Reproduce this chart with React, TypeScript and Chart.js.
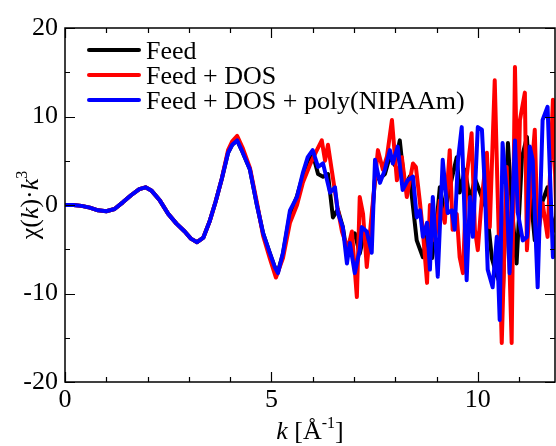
import React, { useEffect, useRef } from "react";
import { Chart, registerables } from "chart.js";

Chart.register(...registerables);

const SERIES_LABELS = ["Feed", "Feed + DOS", "Feed + DOS + poly(NIPAAm)"];
const SERIES_COLORS = ["#000000", "#ff0000", "#0000ff"];

// shared low-k part (all three curves coincide)
const kBase = [0, 0.2, 0.4, 0.6, 0.8, 1.0, 1.2, 1.4, 1.6, 1.8, 1.95, 2.1, 2.3, 2.5, 2.7, 2.9, 3.05, 3.2, 3.35, 3.5, 3.65, 3.8];
const chiBase = [0, 0, -0.1, -0.3, -0.6, -0.7, -0.45, 0.3, 1.1, 1.8, 2.0, 1.6, 0.5, -1.0, -2.1, -3.0, -3.8, -4.2, -3.7, -1.9, 0.4, 3.0];

const kFeed = [3.95, 4.05, 4.17, 4.3, 4.48, 4.64, 4.8, 4.96, 5.08, 5.16, 5.28, 5.45, 5.62, 5.76, 5.88, 6.0, 6.13, 6.25, 6.37, 6.49, 6.61, 6.73, 6.83, 6.9, 7.02, 7.14, 7.26, 7.38, 7.51, 7.63, 7.75, 7.87, 7.99, 8.11, 8.23, 8.35, 8.52, 8.67, 8.79, 8.89, 8.98, 9.08, 9.2, 9.32, 9.49, 9.56, 9.69, 9.81, 9.93, 10.12, 10.22, 10.34, 10.46, 10.61, 10.73, 10.82, 10.94, 11.07, 11.19, 11.26, 11.38, 11.55, 11.69, 11.82, 11.95];
const chiFeed = [5.9, 6.8, 7.3, 6.0, 4.0, 0.2, -3.2, -5.4, -7.0, -7.5, -5.5, -1.0, 1.0, 3.3, 5.0, 5.8, 3.5, 3.2, 3.5, -1.4, -0.5, -2.5, -5.5, -4.0, -3.2, -5.5, -3.0, -5.0, 3.0, 3.0, 3.5, 5.5, 4.5, 7.3, 2.0, 3.2, -4.0, -5.9, -3.0, -6.0, -3.0, 2.0, -1.0, 2.0, 5.4, 1.4, 4.0, 0.5, 3.0, 0.6, -0.5, -6.0, -8.0, -9.6, 7.0, 0.0, -6.6, 5.4, 7.7, 2.0, -4.0, 0.2, 2.0, -3.0, 0.0];

const kDos = [3.95, 4.05, 4.17, 4.3, 4.48, 4.64, 4.8, 4.96, 5.11, 5.28, 5.45, 5.62, 5.76, 5.93, 6.08, 6.22, 6.3, 6.37, 6.46, 6.59, 6.71, 6.85, 6.95, 7.07, 7.14, 7.22, 7.31, 7.43, 7.58, 7.7, 7.8, 7.92, 8.04, 8.16, 8.28, 8.43, 8.5, 8.6, 8.67, 8.77, 8.84, 8.96, 9.08, 9.2, 9.32, 9.39, 9.49, 9.56, 9.64, 9.73, 9.85, 9.93, 10.0, 10.1, 10.22, 10.29, 10.41, 10.48, 10.58, 10.7, 10.82, 10.9, 10.97, 11.02, 11.14, 11.19, 11.31, 11.38, 11.45, 11.57, 11.69, 11.82, 11.95];
const chiDos = [6.2, 7.2, 7.8, 6.5, 4.2, 0.5, -3.5, -6.0, -8.2, -6.0, -2.0, 0.0, 2.5, 4.5, 6.0, 7.3, 5.0, 6.8, 4.0, 0.0, -3.0, -5.0, -3.0, -10.4, 0.9, -1.0, -7.0, -1.0, 6.2, 4.0, 5.5, 9.6, 2.8, 5.4, 0.9, 4.7, 4.3, 0.2, -3.0, -8.8, 0.0, -4.0, 0.5, -2.0, 6.2, -2.8, -1.0, -5.9, -7.7, 3.2, 8.1, -2.8, -5.1, 0.9, 5.9, -2.5, 14.1, 1.4, -15.6, 4.3, -15.6, 15.6, -0.9, 9.6, 12.7, -5.1, 4.3, 8.5, -3.6, 0.2, -3.6, 11.9, -8.8];

const kPoly = [3.95, 4.05, 4.17, 4.3, 4.48, 4.64, 4.8, 4.96, 5.08, 5.16, 5.28, 5.45, 5.62, 5.76, 5.88, 6.0, 6.13, 6.25, 6.42, 6.54, 6.61, 6.73, 6.83, 6.9, 7.02, 7.14, 7.19, 7.31, 7.43, 7.51, 7.63, 7.75, 7.87, 7.94, 8.06, 8.18, 8.3, 8.43, 8.52, 8.6, 8.67, 8.77, 8.84, 8.91, 9.03, 9.15, 9.27, 9.37, 9.44, 9.52, 9.61, 9.73, 9.81, 9.88, 10.0, 10.1, 10.17, 10.24, 10.36, 10.46, 10.53, 10.6, 10.7, 10.77, 10.9, 10.97, 11.09, 11.19, 11.26, 11.33, 11.45, 11.57, 11.69, 11.82, 11.95];
const chiPoly = [5.9, 6.8, 7.3, 6.0, 4.0, 0.2, -3.2, -5.4, -7.0, -7.7, -5.4, -0.6, 0.9, 3.6, 5.4, 6.2, 4.3, 4.7, 1.4, 2.0, -0.9, -2.5, -6.6, -4.3, -7.7, -5.1, -2.5, -3.0, -5.4, 5.1, 2.5, 4.0, 6.2, 4.7, 6.6, 1.7, 2.8, 3.2, -1.4, -0.6, -3.6, -2.0, -7.3, 0.9, -8.1, 5.1, -0.9, -0.6, -2.8, 5.1, 8.8, -8.5, 0.9, -3.6, 8.8, 8.5, 2.0, -7.3, -9.3, -3.6, -13.0, 7.0, 1.4, -7.7, 7.3, -0.9, -4.0, -3.6, 6.6, 5.1, -9.3, 9.6, 11.1, -5.9, -2.0];

const X_MIN = 0;
const X_MAX = 11.87;
const Y_MIN = -20;
const Y_MAX = 20;
const X_TICK_MARKS = [0, 1, 2, 3, 4, 5, 6, 7, 8, 9, 10, 11];
const Y_TICK_MARKS = [-20, -15, -10, -5, 0, 5, 10, 15, 20];

const FONT = "'Liberation Serif', 'Times New Roman', serif";
const FS = 26;

function toPoints(ks: number[], ys: number[]) {
  return ks.map((k, i) => ({ x: k, y: ys[i] }));
}

type Seg = { t: string; italic?: boolean; sup?: boolean };

function drawRich(ctx: CanvasRenderingContext2D, segs: Seg[], cx: number, baseY: number) {
  const fontFor = (s: Seg) =>
    `${s.italic ? "italic " : ""}${s.sup ? Math.round(FS * 0.62) : FS}px ${FONT}`;
  let total = 0;
  for (const s of segs) {
    ctx.font = fontFor(s);
    total += ctx.measureText(s.t).width;
  }
  let x = cx - total / 2;
  ctx.textAlign = "left";
  ctx.textBaseline = "alphabetic";
  for (const s of segs) {
    ctx.font = fontFor(s);
    ctx.fillText(s.t, x, s.sup ? baseY - FS * 0.42 : baseY);
    x += ctx.measureText(s.t).width;
  }
}

const framePlugin = {
  id: "frameAndLabels",
  afterDatasetsDraw(chart: any) {
    const { ctx, chartArea: a, scales } = chart;
    const xs = scales.x;
    const ys = scales.y;
    ctx.save();
    ctx.strokeStyle = "#000";
    ctx.lineWidth = 1.5;
    ctx.strokeRect(a.left, a.top, a.right - a.left, a.bottom - a.top);
    ctx.lineWidth = 1.2;
    ctx.beginPath();
    for (const v of X_TICK_MARKS) {
      const px = Math.round(xs.getPixelForValue(v)) + 0.5;
      const len = v % 5 === 0 ? 10 : 5;
      ctx.moveTo(px, a.bottom);
      ctx.lineTo(px, a.bottom - len);
      ctx.moveTo(px, a.top);
      ctx.lineTo(px, a.top + len);
    }
    for (const v of Y_TICK_MARKS) {
      const py = Math.round(ys.getPixelForValue(v)) + 0.5;
      const len = v % 10 === 0 ? 10 : 5;
      ctx.moveTo(a.left, py);
      ctx.lineTo(a.left + len, py);
      ctx.moveTo(a.right, py);
      ctx.lineTo(a.right - len, py);
    }
    ctx.stroke();

    // legend
    const rowsY = [50, 75, 100];
    SERIES_LABELS.forEach((lab, i) => {
      ctx.strokeStyle = SERIES_COLORS[i];
      ctx.lineWidth = 4;
      ctx.lineCap = "round";
      ctx.beginPath();
      ctx.moveTo(89, rowsY[i]);
      ctx.lineTo(139, rowsY[i]);
      ctx.stroke();
      ctx.fillStyle = "#000";
      ctx.font = `${FS}px ${FONT}`;
      ctx.textAlign = "left";
      ctx.textBaseline = "alphabetic";
      ctx.fillText(lab, 146, rowsY[i] + 9);
    });

    // x title
    ctx.fillStyle = "#000";
    drawRich(
      ctx,
      [{ t: "k", italic: true }, { t: " [Å" }, { t: "-1", sup: true }, { t: "]" }],
      (a.left + a.right) / 2,
      439
    );

    // y title (rotated)
    ctx.save();
    ctx.translate(38, (a.top + a.bottom) / 2);
    ctx.rotate(-Math.PI / 2);
    drawRich(
      ctx,
      [{ t: "χ(" }, { t: "k", italic: true }, { t: ")·" }, { t: "k", italic: true }, { t: "3", sup: true }],
      0,
      0
    );
    ctx.restore();
    ctx.restore();
  },
};

export default function App() {
  const ref = useRef<HTMLCanvasElement | null>(null);
  useEffect(() => {
    if (!ref.current) return;
    const series = [
      { label: SERIES_LABELS[0], pts: toPoints([...kBase, ...kFeed], [...chiBase, ...chiFeed]), order: 2 },
      { label: SERIES_LABELS[1], pts: toPoints([...kBase, ...kDos], [...chiBase, ...chiDos]), order: 1 },
      { label: SERIES_LABELS[2], pts: toPoints([...kBase, ...kPoly], [...chiBase, ...chiPoly]), order: 0 },
    ];
    const chart = new Chart(ref.current, {
      type: "line",
      data: {
        datasets: series.map((s, i) => ({
          label: s.label,
          data: s.pts,
          borderColor: SERIES_COLORS[i],
          backgroundColor: SERIES_COLORS[i],
          borderWidth: 4,
          pointRadius: 0,
          tension: 0,
          fill: false,
          borderJoinStyle: "round" as const,
          order: s.order,
        })),
      },
      options: {
        animation: false,
        responsive: true,
        maintainAspectRatio: false,
        layout: { padding: { top: 28, right: 1, left: 0, bottom: 0 } },
        plugins: { legend: { display: false }, tooltip: { enabled: false } },
        scales: {
          x: {
            type: "linear",
            min: X_MIN,
            max: X_MAX,
            grid: { display: false, drawTicks: false },
            border: { display: false },
            ticks: {
              stepSize: 5,
              includeBounds: false,
              color: "#000",
              padding: 3,
              maxRotation: 0,
              font: { family: FONT, size: FS },
            },
            afterFit: (s: any) => {
              s.height = 64;
            },
          },
          y: {
            type: "linear",
            min: Y_MIN,
            max: Y_MAX,
            grid: { display: false, drawTicks: false },
            border: { display: false },
            ticks: {
              stepSize: 10,
              color: "#000",
              padding: 7,
              font: { family: FONT, size: FS },
            },
            afterFit: (s: any) => {
              s.width = 65;
            },
          },
        },
      },
      plugins: [framePlugin],
    });
    return () => chart.destroy();
  }, []);
  return (
    <div style={{ position: "absolute", left: 0, top: 0, width: 556, height: 446, background: "#fff" }}>
      <canvas ref={ref} />
    </div>
  );
}
